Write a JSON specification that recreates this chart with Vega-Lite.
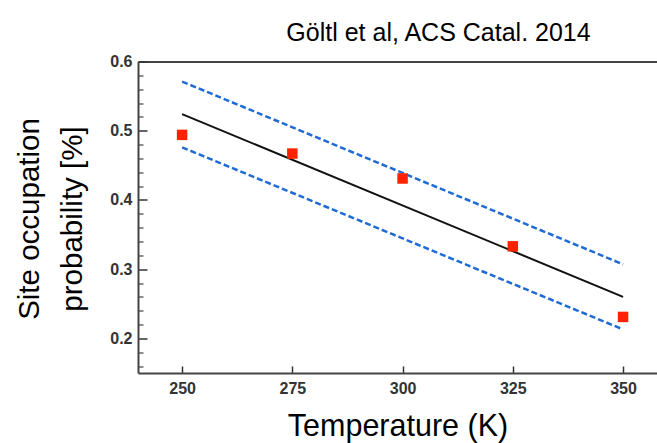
{
  "$schema": "https://vega.github.io/schema/vega-lite/v6.json",
  "width": 519,
  "height": 311.5,
  "autosize": {"type": "none"},
  "padding": {"left": 138, "top": 61.5, "right": 0, "bottom": 70},
  "background": "white",
  "config": {"view": {"stroke": null}, "font": "Liberation Sans"},
  "title": {
    "text": "Göltl et al, ACS Catal. 2014",
    "fontSize": 25,
    "font": "Liberation Sans",
    "fontWeight": "normal",
    "color": "#000000",
    "anchor": "middle",
    "dx": 41,
    "baseline": "alphabetic",
    "offset": -12
  },
  "datasets": {
    "pts": [
      {"T": 250, "p": 0.494},
      {"T": 275, "p": 0.467},
      {"T": 300, "p": 0.431},
      {"T": 325, "p": 0.333},
      {"T": 350, "p": 0.231}
    ],
    "fit": [
      {"T": 250, "p": 0.524},
      {"T": 350, "p": 0.260}
    ],
    "bounds": [
      {"T": 250, "p": 0.571, "bound": "upper"},
      {"T": 350, "p": 0.307, "bound": "upper"},
      {"T": 250, "p": 0.476, "bound": "lower"},
      {"T": 350, "p": 0.213, "bound": "lower"}
    ]
  },
  "layer": [
    {
      "data": {"name": "fit"},
      "mark": {"type": "line", "color": "#111111", "strokeWidth": 2},
      "encoding": {
        "x": {
          "field": "T", "type": "quantitative",
          "scale": {"domain": [240, 357.7], "nice": false, "zero": false},
          "axis": {
            "orient": "bottom",
            "values": [250, 275, 300, 325, 350],
            "grid": false,
            "tickSize": -7, "tickWidth": 1.5, "tickColor": "#333333",
            "domainColor": "#444444", "domainWidth": 2,
            "labelPadding": 14, "labelFontSize": 16, "labelFontWeight": "bold", "labelColor": "#333333",
            "title": "Temperature (K)",
            "titleFontSize": 30.5, "titleFontWeight": "normal", "titleColor": "#000000",
            "titleBaseline": "alphabetic", "titleY": 62
          }
        },
        "y": {
          "field": "p", "type": "quantitative",
          "scale": {"domain": [0.15, 0.6], "nice": false, "zero": false},
          "axis": {
            "orient": "left",
            "values": [0.2, 0.3, 0.4, 0.5, 0.6],
            "format": ".1f",
            "grid": false,
            "tickSize": -9, "tickWidth": 1.5, "tickColor": "#333333",
            "domainColor": "#444444", "domainWidth": 2,
            "labelPadding": 15, "labelFontSize": 16, "labelFontWeight": "bold", "labelColor": "#333333",
            "title": ["Site occupation", "probability [%]"],
            "titleFontSize": 29.5, "titleFontWeight": "normal", "titleColor": "#000000",
            "titleAngle": -90, "titleAlign": "center", "titleBaseline": "alphabetic",
            "titleLineHeight": 43, "titleX": -100, "titleY": 157
          }
        }
      }
    },
    {
      "data": {"name": "bounds"},
      "mark": {"type": "line", "color": "#1f6bd6", "strokeWidth": 2.5, "strokeDash": [6, 3]},
      "encoding": {
        "detail": {"field": "bound"},
        "x": {
          "field": "T", "type": "quantitative",
          "axis": {
            "orient": "top", "ticks": false, "labels": false, "grid": false, "title": null,
            "domainColor": "#444444", "domainWidth": 2
          }
        },
        "y": {
          "field": "p", "type": "quantitative",
          "axis": {
            "orient": "left",
            "values": [0.16, 0.18, 0.22, 0.24, 0.26, 0.28, 0.32, 0.34, 0.36, 0.38, 0.42, 0.44, 0.46, 0.48, 0.52, 0.54, 0.56, 0.58],
            "grid": false, "labels": false, "domain": false, "title": null,
            "tickSize": -5, "tickWidth": 1.2, "tickColor": "#444444"
          }
        }
      }
    },
    {
      "data": {"name": "pts"},
      "mark": {"type": "square", "size": 110, "color": "#ff2200", "opacity": 1},
      "encoding": {
        "x": {"field": "T", "type": "quantitative", "axis": null},
        "y": {"field": "p", "type": "quantitative", "axis": null}
      }
    }
  ],
  "resolve": {"axis": {"x": "independent", "y": "independent"}}
}
